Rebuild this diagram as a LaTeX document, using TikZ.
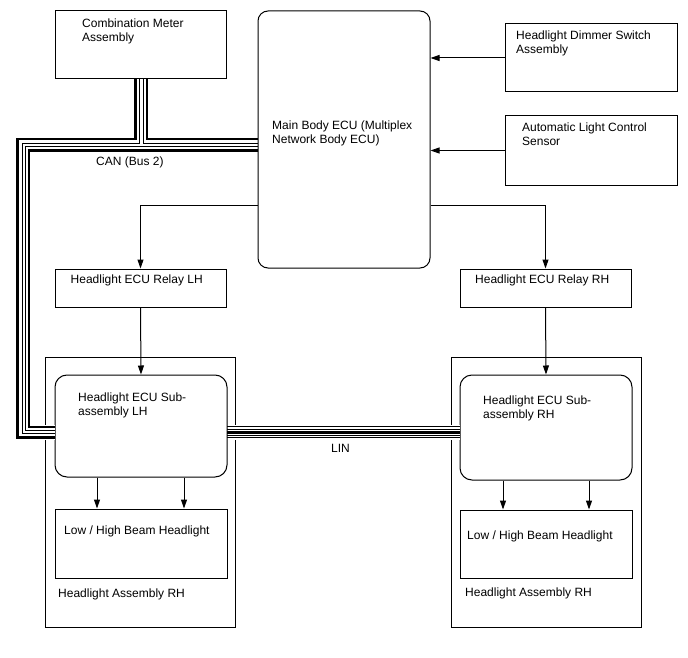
\documentclass[tikz,border=0pt]{standalone}
\usepackage{fontspec}
\setmainfont{Liberation Sans}
\usetikzlibrary{arrows.meta}
\begin{document}
\begin{tikzpicture}[x=1pt,y=-1pt,
 box/.style={draw,line width=1pt,inner sep=0pt},
 txt/.style={anchor=north west,inner sep=0pt,align=left,font=\fontsize{12}{14}\selectfont},
 arr/.style={line width=1pt,-{Triangle[length=9pt,width=6pt]}},
 thk/.style={line width=2.6pt},
 thn/.style={line width=1pt}]
\useasboundingbox (0,0) rectangle (688,658);
\fill[white] (0,0) rectangle (688,658);
% boxes
\node[box,minimum width=171pt,minimum height=68pt] (meter) at (140.5,45) {};
\node[box,rounded corners=10pt,minimum width=172pt,minimum height=257pt] (ecu) at (344,139.5) {};
\node[box,minimum width=172pt,minimum height=68pt] (dimmer) at (591,58) {};
\node[box,minimum width=172pt,minimum height=69pt] (auto) at (591,150.5) {};
\node[box,minimum width=171pt,minimum height=38pt] (relayL) at (140.5,288) {};
\node[box,minimum width=171pt,minimum height=38pt] (relayR) at (545.5,288) {};
\node[box,minimum width=190pt,minimum height=270pt] (asmL) at (140,492) {};
\node[box,minimum width=190pt,minimum height=270pt] (asmR) at (546,492) {};
\node[box,rounded corners=12pt,minimum width=172pt,minimum height=102pt] (subL) at (141,426) {};
\node[box,rounded corners=12pt,minimum width=172pt,minimum height=105pt] (subR) at (546,427.5) {};
\node[box,minimum width=172pt,minimum height=69pt] (lowL) at (141,543.5) {};
\node[box,minimum width=172pt,minimum height=68pt] (lowR) at (546,544) {};
% texts
\node[txt] (tmeter) at (82,18.5) {Combination Meter\\Assembly};
\node[txt] (tecu) at (272,120.5) {Main Body ECU (Multiplex\\Network Body ECU)};
\node[txt] (tdim) at (516,30.5) {Headlight Dimmer Switch\\Assembly};
\node[txt] (tauto) at (522,123) {Automatic Light Control\\Sensor};
\node[txt] (trelL) at (70.5,274.5) {Headlight ECU Relay LH};
\node[txt] (trelR) at (475,274.5) {Headlight ECU Relay RH};
\node[txt] (tsubL) at (78,392.5) {Headlight ECU Sub-\\assembly LH};
\node[txt] (tsubR) at (483,395.5) {Headlight ECU Sub-\\assembly RH};
\node[txt] (tlowL) at (64,525.5) {Low / High Beam Headlight};
\node[txt] (tlowR) at (467,530.5) {Low / High Beam Headlight};
\node[txt] (tasmL) at (58,588.5) {Headlight Assembly RH};
\node[txt] (tasmR) at (465,587.5) {Headlight Assembly RH};
\node[txt] (tcan) at (96,157) {CAN (Bus 2)};
\node[txt] (tlin) at (331,444.5) {LIN};
% arrows
\draw[arr] (dimmer.west) -- (dimmer.west -| ecu.east);
\draw[arr] (auto.west) -- (auto.west -| ecu.east);
\draw[arr] ([yshift=-65.5pt]ecu.west) -| (relayL.north);
\draw[arr] ([yshift=-65.5pt]ecu.east) -| (relayR.north);
\draw[arr] (relayL.south) -- (subL.north);
\draw[arr] (relayR.south) -- (subR.north);
\draw[arr] ([xshift=-44pt]subL.south) -- ([xshift=-44pt]lowL.north);
\draw[arr] ([xshift=43pt]subL.south) -- ([xshift=43pt]lowL.north);
\draw[arr] ([xshift=-43pt]subR.south) -- ([xshift=-43pt]lowR.north);
\draw[arr] ([xshift=43pt]subR.south) -- ([xshift=43pt]lowR.north);
% CAN bus
\fill[white] (16,424.5) rectangle (54.5,439.5);
\draw[thk] (135.5,79) -- (135.5,139) -- (17.5,139) -- (17.5,437.5) -- (55,437.5);
\draw[thn] (139.5,79) -- (139.5,143.5) -- (22,143.5) -- (22,433.5) -- (55,433.5);
\draw[thk] (147,79) -- (147,139) -- (258,139);
\draw[thn] (143,79) -- (143,143.5) -- (258,143.5);
\draw[thn] (258,147) -- (25.5,147) -- (25.5,430.5) -- (55,430.5);
\draw[thk] (258,150.5) -- (29,150.5) -- (29,427) -- (55,427);
% LIN
\fill[white] (227.5,425) rectangle (459.5,439.5);
\draw[thn] (227,426.5) -- (460,426.5);
\draw[thn] (227,429) -- (460,429);
\draw[line width=3pt] (227,432.2) -- (460,432.2);
\draw[thn] (227,435.5) -- (460,435.5);
\draw[thn] (227,437.8) -- (460,437.8);
\end{tikzpicture}
\end{document}
